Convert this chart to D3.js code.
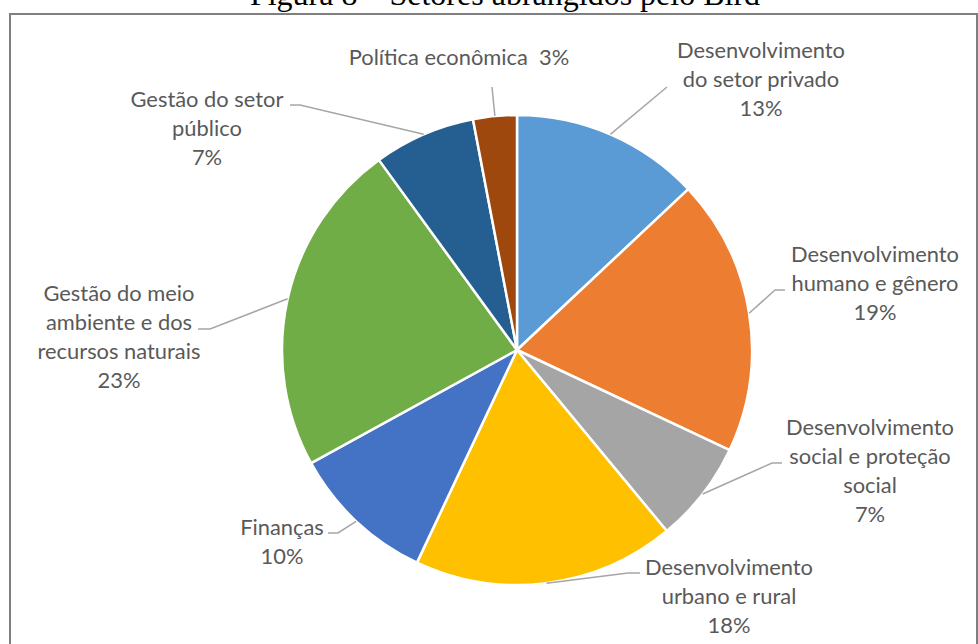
<!DOCTYPE html>
<html>
<head>
<meta charset="utf-8">
<script src="https://cdn.jsdelivr.net/npm/d3@7"></script>
<style>
  html, body { margin: 0; padding: 0; background: #ffffff; }
  svg { display: block; }
</style>
</head>
<body>
<svg id="chart" width="978" height="644"></svg>
<script>
// Sectors covered by the Bird (share of projects, %)
const categories = [
  "Desenvolvimento\ndo setor privado",
  "Desenvolvimento\nhumano e gênero",
  "Desenvolvimento\nsocial e proteção\nsocial",
  "Desenvolvimento\nurbano e rural",
  "Finanças",
  "Gestão do meio\nambiente e dos\nrecursos naturais",
  "Gestão do setor\npúblico",
  "Política econômica"
];
const values = [13, 19, 7, 18, 10, 23, 7, 3];
const colors = ["#5B9BD5", "#ED7D31", "#A5A5A5", "#FFC000", "#4472C4", "#70AD47", "#255E91", "#9E480E"];
const title = "Figura 8 – Setores abrangidos pelo Bird";

// Label placement: text centre x, first baseline y, leader start and optional elbow
const labelLayout = [
  { x: 761, y: 58,  start: [667, 87],  elbow: null },
  { x: 875, y: 262, start: [785, 290], elbow: [775, 290] },
  { x: 870, y: 435, start: [782, 463], elbow: [772, 463] },
  { x: 729, y: 575, start: [640, 573], elbow: [628, 573] },
  { x: 282, y: 535, start: [328, 533], elbow: [338, 533] },
  { x: 119, y: 301, start: [198, 329], elbow: [210, 329] },
  { x: 207, y: 107, start: [290, 105], elbow: [300, 105] },
  { x: 459, y: 65,  start: [492, 87],  elbow: null, inline: true }
];

const svg = d3.select("#chart");
const cx = 517, cy = 350, R = 235;
const labelFont = "Lato, 'Open Sans', sans-serif";
const lineGap = 29;

// Title (partly above the frame)
svg.append("text")
  .attr("x", 505).attr("y", 5)
  .attr("text-anchor", "middle")
  .attr("font-family", "'Liberation Serif', 'Times New Roman', serif")
  .attr("font-size", 32)
  .attr("fill", "#000")
  .text(title);

// Chart frame
svg.append("rect")
  .attr("x", 10).attr("y", 14)
  .attr("width", 967).attr("height", 700)
  .attr("fill", "none")
  .attr("stroke", "#7f7f7f")
  .attr("stroke-width", 2);

// Fit label font so a long word has the usual width
const probe = svg.append("text").attr("font-family", labelFont).attr("font-size", 100).text("Desenvolvimento");
const probeW = probe.node().getComputedTextLength();
probe.remove();
const fontSize = 100 * 168 / probeW;

const pie = d3.pie().sort(null).value(d => d)(values);
const arc = d3.arc().innerRadius(0).outerRadius(R);

const g = svg.append("g").attr("transform", `translate(${cx},${cy})`);
g.selectAll("path.slice")
  .data(pie)
  .join("path")
  .attr("class", "slice")
  .attr("d", arc)
  .attr("fill", (d, i) => colors[i])
  .attr("stroke", "#ffffff")
  .attr("stroke-width", 2.5)
  .attr("stroke-linejoin", "round");

// Leader lines
const leader = d3.line();
pie.forEach((d, i) => {
  const L = labelLayout[i];
  const a = (d.startAngle + d.endAngle) / 2;
  const end = [cx + Math.sin(a) * R, cy - Math.cos(a) * R];
  const pts = [L.start];
  if (L.elbow) pts.push(L.elbow);
  pts.push(end);
  svg.append("path")
    .attr("d", leader(pts))
    .attr("fill", "none")
    .attr("stroke", "#a6a6a6")
    .attr("stroke-width", 1.5);
});

// Data labels
pie.forEach((d, i) => {
  const L = labelLayout[i];
  const pct = values[i] + "%";
  const lines = L.inline ? [categories[i] + "\u00a0\u00a0" + pct] : categories[i].split("\n").concat([pct]);
  const t = svg.append("text")
    .attr("text-anchor", "middle")
    .attr("font-family", labelFont)
    .attr("font-size", fontSize)
    .attr("fill", "#595959");
  lines.forEach((s, k) => {
    t.append("tspan").attr("x", L.x).attr("y", L.y + k * lineGap).text(s);
  });
});
</script>
</body>
</html>
